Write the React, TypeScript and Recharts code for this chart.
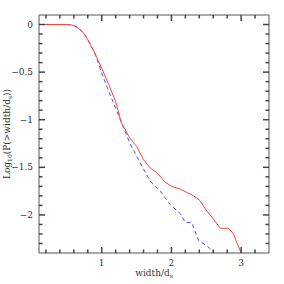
import React from 'react';
import { LineChart, Line, XAxis, YAxis, Label } from 'recharts';

const redX = [0.1, 0.3, 0.5, 0.55, 0.6, 0.65, 0.7, 0.75, 0.8, 0.85, 0.9, 0.95, 1.0, 1.1, 1.2, 1.28, 1.4, 1.5, 1.6, 1.7, 1.8, 1.9, 2.0, 2.13, 2.32, 2.41, 2.5, 2.61, 2.7, 2.82, 2.89, 3.0];
const redY = [0, 0, 0, -0.003, -0.01, -0.03, -0.06, -0.1, -0.16, -0.23, -0.3, -0.38, -0.46, -0.63, -0.81, -1.03, -1.19, -1.28, -1.42, -1.51, -1.56, -1.65, -1.7, -1.73, -1.8, -1.85, -1.95, -2.05, -2.14, -2.14, -2.2, -2.4];

const blueX = [0.1, 0.3, 0.5, 0.55, 0.6, 0.65, 0.7, 0.75, 0.8, 0.85, 0.9, 0.95, 1.0, 1.1, 1.2, 1.3, 1.4, 1.5, 1.6, 1.7, 1.84, 1.98, 2.13, 2.2, 2.29, 2.39, 2.5, 2.61];
const blueY = [0, 0, 0, -0.003, -0.01, -0.03, -0.06, -0.1, -0.16, -0.23, -0.3, -0.4, -0.51, -0.7, -0.88, -1.06, -1.24, -1.38, -1.52, -1.65, -1.75, -1.89, -1.99, -2.08, -2.08, -2.27, -2.32, -2.39];

const xTicks = [0.2, 0.4, 0.6, 0.8, 1, 1.2, 1.4, 1.6, 1.8, 2, 2.2, 2.4, 2.6, 2.8, 3, 3.2];
const xMajor = [1, 2, 3];
const yTicks = [-2.3, -2.2, -2.1, -2, -1.9, -1.8, -1.7, -1.6, -1.5, -1.4, -1.3, -1.2, -1.1, -1, -0.9, -0.8, -0.7, -0.6, -0.5, -0.4, -0.3, -0.2, -0.1, 0];
const yMajor = [-2, -1.5, -1, -0.5, 0];

const red = redX.map((x, i) => ({ x, y: redY[i] }));
const blue = blueX.map((x, i) => ({ x, y: blueY[i] }));

const FONT = 'DejaVu Serif';
const AXIS = '#555';
const TICK = '#444';
const W = 284;
const H = 284;
const M = { top: 14, right: 14, bottom: 30, left: 38 };
// plot frame edges (axes are 1px thick)
const TOP = M.top + 1;
const RIGHT = W - M.right - 1;

const near = (list: number[], v: number) => list.some((m) => Math.abs(m - v) < 1e-6);
const fmt = (v: number) => (v < 0 ? '\u2212' + Math.abs(v) : String(v));

// bottom axis tick: inward marks on bottom and top edges, label on bottom
function XTick(props: any) {
  const x = Number(props.x);
  const y = Number(props.y);
  const major = near(xMajor, props.payload.value);
  const len = major ? 6 : 3.5;
  return (
    <g>
      <path d={`M${x},${y}L${x},${y - len}`} stroke={TICK} strokeWidth={1.5} fill="none" />
      <path d={`M${x},${TOP}L${x},${TOP + len}`} stroke={TICK} strokeWidth={1.5} fill="none" />
      {major ? (
        <text x={x} y={y + 13} textAnchor="middle" fontSize={9} fontFamily={FONT} fill="#333">
          {fmt(props.payload.value)}
        </text>
      ) : null}
    </g>
  );
}

// left axis tick: inward marks on left and right edges, label on left
function YTick(props: any) {
  const x = Number(props.x);
  const y = Number(props.y);
  const major = near(yMajor, props.payload.value);
  const len = major ? 6 : 3.5;
  return (
    <g>
      <path d={`M${x},${y}L${x + len},${y}`} stroke={TICK} strokeWidth={1.5} fill="none" />
      <path d={`M${RIGHT},${y}L${RIGHT - len},${y}`} stroke={TICK} strokeWidth={1.5} fill="none" />
      {major ? (
        <text x={x - 6} y={y + 3} textAnchor="end" fontSize={9} fontFamily={FONT} fill="#333">
          {fmt(props.payload.value)}
        </text>
      ) : null}
    </g>
  );
}

function XTitle() {
  return (
    <text x={154} y={276} textAnchor="middle" fontSize={9} fontFamily={FONT} fill="#333">
      width/d
      <tspan fontSize={6} dy={2}>s</tspan>
    </text>
  );
}

function YTitle() {
  const cy = 134;
  const cx = 10;
  return (
    <text
      x={cx}
      y={cy}
      transform={`rotate(-90 ${cx} ${cy})`}
      textAnchor="middle"
      fontSize={9}
      fontFamily={FONT}
      fill="#333"
    >
      Log
      <tspan fontSize={6} dy={2}>10</tspan>
      <tspan dy={-2}>(P(&gt;width/d</tspan>
      <tspan fontSize={6} dy={2}>s</tspan>
      <tspan dy={-2}>))</tspan>
    </text>
  );
}

export default function App() {
  return (
    <div style={{ position: 'absolute', left: 0, top: 0, width: W, height: H, background: '#fff' }}>
      <LineChart width={W} height={H} margin={M}>
        <XAxis
          xAxisId="b"
          type="number"
          dataKey="x"
          domain={[0.1, 3.4]}
          allowDataOverflow
          ticks={xTicks}
          interval={0}
          height={1}
          tickSize={0}
          tickMargin={0}
          tickLine={false}
          stroke={AXIS}
          tick={<XTick />}
        >
          <Label content={<XTitle />} />
        </XAxis>
        <XAxis
          xAxisId="t"
          orientation="top"
          type="number"
          dataKey="x"
          domain={[0.1, 3.4]}
          allowDataOverflow
          height={1}
          tick={false}
          tickLine={false}
          stroke={AXIS}
        />
        <YAxis
          yAxisId="l"
          type="number"
          domain={[-2.4, 0.1]}
          allowDataOverflow
          ticks={yTicks}
          interval={0}
          width={1}
          tickSize={0}
          tickMargin={0}
          tickLine={false}
          stroke={AXIS}
          tick={<YTick />}
        >
          <Label content={<YTitle />} />
        </YAxis>
        <YAxis
          yAxisId="r"
          orientation="right"
          type="number"
          domain={[-2.4, 0.1]}
          allowDataOverflow
          width={1}
          tick={false}
          tickLine={false}
          stroke={AXIS}
        />
        <Line
          xAxisId="b"
          yAxisId="l"
          data={blue}
          dataKey="y"
          type="linear"
          stroke="#4d4dff"
          strokeWidth={1}
          strokeDasharray="4 3"
          dot={false}
          isAnimationActive={false}
        />
        <Line
          xAxisId="b"
          yAxisId="l"
          data={red}
          dataKey="y"
          type="linear"
          stroke="#ff4040"
          strokeWidth={1}
          dot={false}
          isAnimationActive={false}
        />
      </LineChart>
    </div>
  );
}
